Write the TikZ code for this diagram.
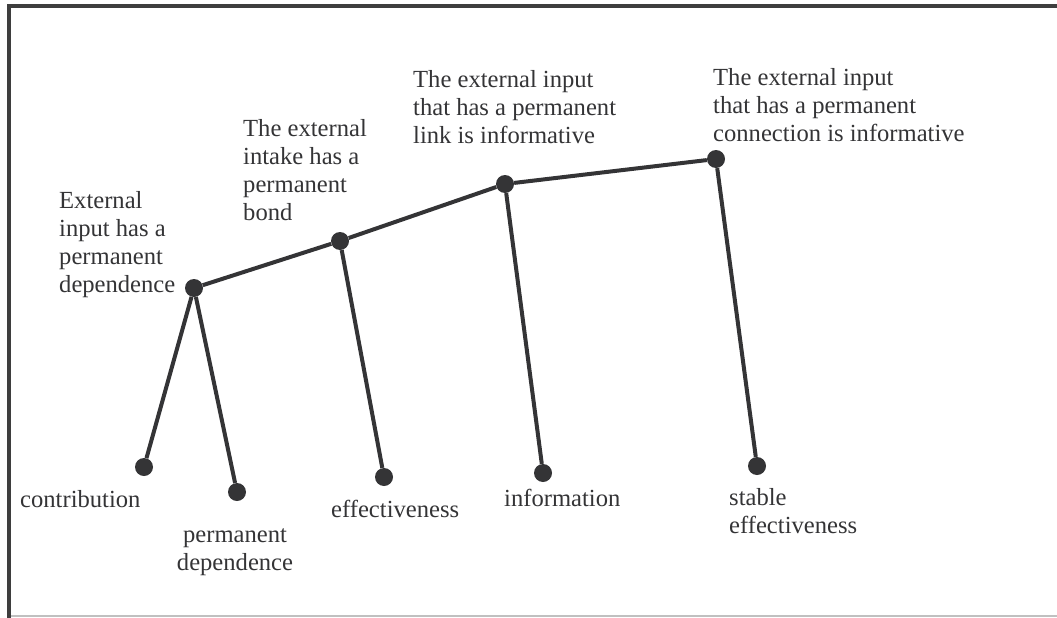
\documentclass[tikz,border=0pt]{standalone}
\usepackage{fontspec}
\setmainfont{Liberation Serif}
\definecolor{InkGray}{RGB}{52,52,54}
\definecolor{FrameGray}{RGB}{62,62,62}
\definecolor{EdgeGray}{RGB}{192,192,192}
\usetikzlibrary{positioning}

\begin{document}
\begin{tikzpicture}[x=1pt, y=-1pt,
    dot/.style={circle, fill=InkGray, inner sep=0pt, minimum size=18pt},
    lbl/.style={align=left, anchor=base west, inner sep=0pt, text=InkGray,
      font=\fontsize{24.6}{28}\selectfont},
    link/.style={InkGray, line width=4pt}]
  \useasboundingbox (0,0) rectangle (1057,618);
  % frame
  \draw[EdgeGray, line width=2pt] (9,616) -- (1057,616);
  \draw[FrameGray, line width=4pt] (9,618) -- (9,6) -- (1057,6);

  % upper chain
  \node[dot] (ext) at (194,288) {};
  \node[dot] (intake) at (340,241) {};
  \node[dot] (link) at (505,184) {};
  \node[dot] (conn) at (716,159) {};

  % lower ends
  \node[dot] (contr) at (144,467) {};
  \node[dot] (perm) at (237,492) {};
  \node[dot] (eff) at (384,477) {};
  \node[dot] (info) at (543,473) {};
  \node[dot] (stab) at (757,466) {};

  \draw[link] (ext) -- (intake) -- (link) -- (conn);
  \draw[link] (ext) -- (contr);
  \draw[link] (ext) -- (perm);
  \draw[link] (intake) -- (eff);
  \draw[link] (link) -- (info);
  \draw[link] (conn) -- (stab);

  % labels (base = last line)
  \node[lbl] (extlbl) at (59,292) {External\\input has a\\permanent\\dependence};
  \node[lbl] (intakelbl) at (243,220) {The external\\intake has a\\permanent\\bond};
  \node[lbl] (linklbl) at (413,143) {The external input\\that has a permanent\\link is informative};
  \node[lbl] (connlbl) at (713,141) {The external input\\that has a permanent\\connection is informative};
  \node[lbl] (contrlbl) at (20,507) {contribution};
  \node[lbl, align=center, anchor=base] (permlbl) at (235,570) {permanent\\dependence};
  \node[lbl] (efflbl) at (331,517) {effectiveness};
  \node[lbl] (infolbl) at (504,506) {information};
  \node[lbl] (stablbl) at (729,533) {stable\\effectiveness};
\end{tikzpicture}
\end{document}
